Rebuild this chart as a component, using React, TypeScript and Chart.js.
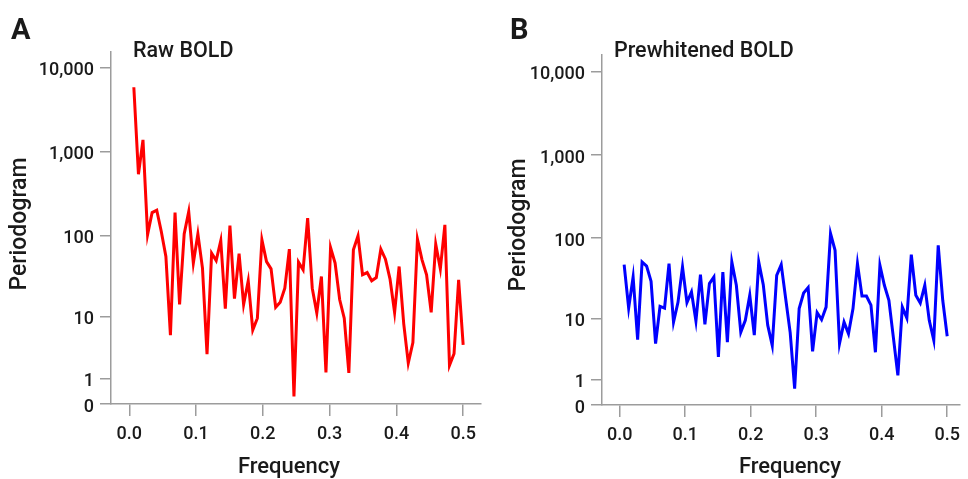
import React, { useEffect, useRef } from 'react';
import { Chart, registerables } from 'chart.js';

Chart.register(...registerables);

// Frequencies (cycles per scan), k/146 for k = 1..73
const frequencies = [
  0.0068, 0.0137, 0.0205, 0.0274, 0.0342, 0.0411, 0.0479, 0.0548, 0.0616, 0.0685,
  0.0753, 0.0822, 0.089, 0.0959, 0.1027, 0.1096, 0.1164, 0.1233, 0.1301, 0.137,
  0.1438, 0.1507, 0.1575, 0.1644, 0.1712, 0.1781, 0.1849, 0.1918, 0.1986, 0.2055,
  0.2123, 0.2192, 0.226, 0.2329, 0.2397, 0.2466, 0.2534, 0.2603, 0.2671, 0.274,
  0.2808, 0.2877, 0.2945, 0.3014, 0.3082, 0.3151, 0.3219, 0.3288, 0.3356, 0.3425,
  0.3493, 0.3562, 0.363, 0.3699, 0.3767, 0.3836, 0.3904, 0.3973, 0.4041, 0.411,
  0.4178, 0.4247, 0.4315, 0.4384, 0.4452, 0.4521, 0.4589, 0.4658, 0.4726, 0.4795,
  0.4863, 0.4932, 0.5,
];

const rawBoldValues = [
  5900, 543, 1390, 103, 189, 202, 112, 56, 5.6, 189,
  14.3, 105, 194, 46.5, 105, 40.4, 2.93, 61.4, 50, 87,
  12.6, 132, 17, 60.8, 14.3, 28.3, 6.6, 9.5, 89, 48.6,
  39.6, 13.2, 15.3, 22.9, 68.7, 0.23, 47.8, 38.5, 162, 22.9,
  11.1, 31.9, 1.38, 71.8, 46.5, 16.4, 9.5, 1.34, 67.4, 99,
  33.5, 35.7, 28.3, 31, 68.7, 52, 29.9, 11.3, 42.3, 8.0,
  2.07, 4.4, 90.6, 51, 33.5, 11.3, 79, 39.6, 134.5, 1.88,
  2.96, 29, 4.07,
];

const prewhitenedBoldValues = [
  47.6, 13.6, 33.5, 5.1, 51.2, 45.7, 29.6, 4.47, 14.3, 13.6,
  49, 8.9, 16.1, 44.5, 16, 21.8, 9.2, 35.8, 8.3, 27.7,
  33.5, 2.77, 38.6, 4.7, 51.2, 26.4, 6.5, 9.4, 19.8, 5.9,
  51.2, 26.9, 8.1, 4.2, 35.1, 47.6, 18, 6.4, 0.57, 13.4,
  21.1, 24.7, 3.4, 11.9, 9.6, 14, 113.5, 71.1, 4.47, 8.9,
  6.2, 13.4, 49, 19.4, 19.4, 14.8, 3.3, 46.6, 26.4, 17.1,
  5.5, 1.27, 14, 10.1, 63.1, 19.8, 15.8, 26.4, 9.4, 5.0,
  81.9, 17.1, 5.7,
];

const yTickValues = [0, 1, 10, 100, 1000, 10000];
const yTickLabels = ['0', '1', '10', '100', '1,000', '10,000'];
const xTickValues = [0, 0.1, 0.2, 0.3, 0.4, 0.5];
const xTickLabels = ['0.0', '0.1', '0.2', '0.3', '0.4', '0.5'];

const transform = (v: number) => Math.log10(1 + v);

const TEXT = '#1a1a1a';
const AXIS = '#9c9c9c';
const FONT = 'Roboto';

type PanelCfg = {
  left: number;
  letter: string;
  letterX: number;
  title: string;
  titleX: number;
  values: number[];
  color: string;
  padTop: number;
  padRight: number;
  yWidth: number;
  xHeight: number;
  xMin: number;
  xMax: number;
  yMax: number;
  yTitleX: number;
  yTitleY: number;
  xTitleX: number;
};

function Panel({ cfg }: { cfg: PanelCfg }) {
  const ref = useRef<HTMLCanvasElement>(null);

  useEffect(() => {
    const canvas = ref.current;
    if (!canvas) return;

    const textPlugin = {
      id: 'panelText',
      afterDraw(chart: any) {
        const ctx = chart.ctx as CanvasRenderingContext2D;
        ctx.save();
        ctx.fillStyle = TEXT;
        ctx.textAlign = 'left';
        ctx.textBaseline = 'alphabetic';
        ctx.font = `bold 29px ${FONT}`;
        ctx.fillText(cfg.letter, cfg.letterX, 39);
        ctx.font = `500 21.5px ${FONT}`;
        ctx.fillText(cfg.title, cfg.titleX, 57);
        ctx.font = `500 22px ${FONT}`;
        ctx.textAlign = 'center';
        ctx.fillText('Frequency', cfg.xTitleX, 473);
        ctx.translate(cfg.yTitleX, cfg.yTitleY);
        ctx.rotate(-Math.PI / 2);
        ctx.textBaseline = 'middle';
        ctx.font = `500 23px ${FONT}`;
        ctx.fillText('Periodogram', 0, 0);
        ctx.restore();
      },
    };

    const chart = new Chart(canvas, {
      type: 'line',
      data: {
        datasets: [
          {
            data: frequencies.map((f, i) => ({ x: f, y: transform(cfg.values[i]) })),
            borderColor: cfg.color,
            backgroundColor: cfg.color,
            borderWidth: 3,
            pointRadius: 0,
            tension: 0,
            fill: false,
          },
        ],
      },
      options: {
        responsive: false,
        animation: false,
        maintainAspectRatio: false,
        layout: { padding: { left: 0, top: cfg.padTop, right: cfg.padRight, bottom: 0 } },
        plugins: {
          legend: { display: false },
          tooltip: { enabled: false },
          title: { display: false },
        },
        scales: {
          x: {
            type: 'linear',
            min: cfg.xMin,
            max: cfg.xMax,
            afterBuildTicks: (scale: any) => {
              scale.ticks = xTickValues.map((v) => ({ value: v }));
            },
            afterFit: (scale: any) => {
              scale.height = cfg.xHeight;
            },
            ticks: {
              autoSkip: false,
              maxRotation: 0,
              padding: 8,
              color: TEXT,
              font: { family: FONT, size: 18, weight: '500' },
              callback: (_v: any, i: number) => xTickLabels[i],
            },
            grid: {
              display: true,
              drawOnChartArea: false,
              drawTicks: true,
              tickLength: 12,
              color: AXIS,
              lineWidth: 1.5,
            },
            border: { display: true, color: AXIS, width: 1.5 },
          },
          y: {
            type: 'linear',
            min: 0,
            max: cfg.yMax,
            afterBuildTicks: (scale: any) => {
              scale.ticks = yTickValues.map((v) => ({ value: transform(v) }));
            },
            afterFit: (scale: any) => {
              scale.width = cfg.yWidth;
            },
            ticks: {
              autoSkip: false,
              padding: 6,
              labelOffset: 3,
              color: TEXT,
              font: { family: FONT, size: 18, weight: '500' },
              callback: (_v: any, i: number) => yTickLabels[i],
            },
            grid: {
              display: true,
              drawOnChartArea: false,
              drawTicks: true,
              tickLength: 11,
              color: AXIS,
              lineWidth: 1.5,
            },
            border: { display: true, color: AXIS, width: 1.5 },
          },
        },
      } as any,
      plugins: [textPlugin],
    });

    return () => chart.destroy();
  }, [cfg]);

  return (
    <canvas
      ref={ref}
      width={484}
      height={479}
      style={{ position: 'absolute', left: cfg.left, top: 0, width: 484, height: 479 }}
    />
  );
}

const panelA: PanelCfg = {
  left: 0,
  letter: 'A',
  letterX: 11,
  title: 'Raw BOLD',
  titleX: 133,
  values: rawBoldValues,
  color: '#ff0000',
  padTop: 52,
  padRight: 2,
  yWidth: 111,
  xHeight: 75,
  xMin: -0.0274,
  xMax: 0.527,
  yMax: 4.19,
  yTitleX: 20,
  yTitleY: 224,
  xTitleX: 289,
};

const panelB: PanelCfg = {
  left: 484,
  letter: 'B',
  letterX: 26,
  title: 'Prewhitened BOLD',
  titleX: 130,
  values: prewhitenedBoldValues,
  color: '#0000ff',
  padTop: 55,
  padRight: 2,
  yWidth: 118,
  xHeight: 74,
  xMin: -0.027,
  xMax: 0.5195,
  yMax: 4.204,
  yTitleX: 35,
  yTitleY: 225,
  xTitleX: 306,
};

export default function App() {
  return (
    <div style={{ position: 'absolute', left: 0, top: 0, width: 968, height: 479, background: '#ffffff', overflow: 'hidden' }}>
      <Panel cfg={panelA} />
      <Panel cfg={panelB} />
    </div>
  );
}
